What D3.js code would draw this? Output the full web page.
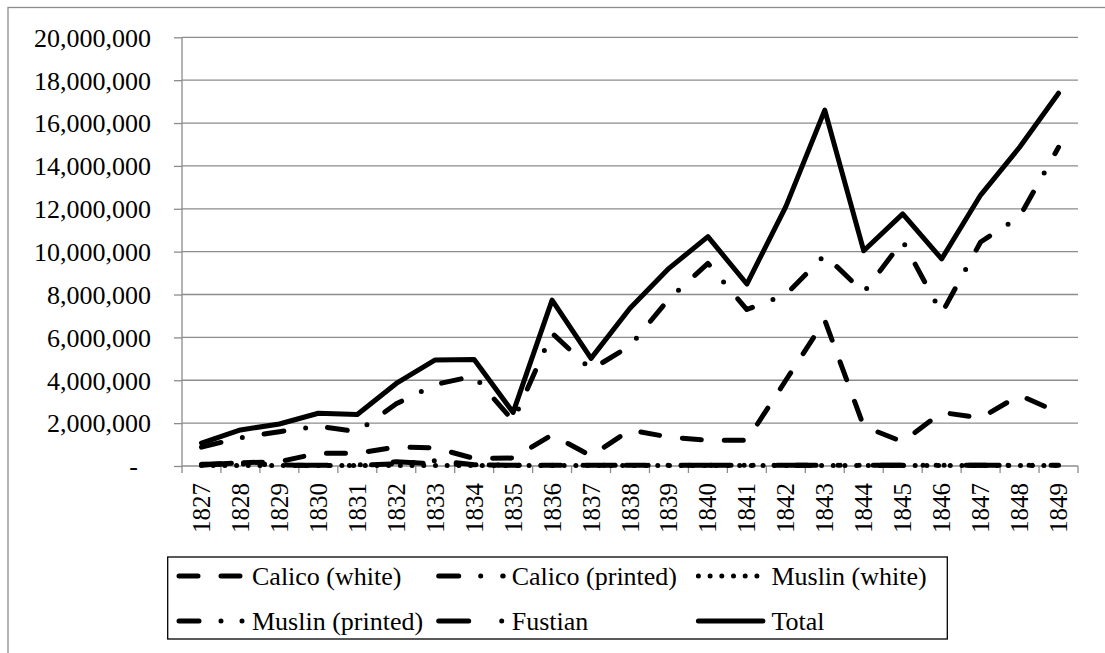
<!DOCTYPE html>
<html>
<head>
<meta charset="utf-8">
<script src="https://cdn.jsdelivr.net/npm/d3@7"></script>
<style>
  html, body { margin: 0; padding: 0; background: #fff; }
</style>
</head>
<body>
<div id="chart"></div>
<script>
// data
const years = ["1827","1828","1829","1830","1831","1832","1833","1834","1835","1836","1837","1838",
               "1839","1840","1841","1842","1843","1844","1845","1846","1847","1848","1849"];

const calicoWhite   = [50000,150000,200000,600000,600000,880000,850000,350000,370000,1450000,470000,1680000,
                       1350000,1200000,1200000,4000000,6800000,1850000,1130000,2500000,2240000,3300000,2500000];
const calicoPrinted = [880000,1320000,1600000,1850000,1600000,2900000,3800000,4200000,2100000,6200000,4500000,5600000,
                       7800000,9450000,7300000,8000000,9840000,8100000,10500000,7120000,10450000,11630000,14870000];
const muslinWhite   = [20000,30000,20000,20000,20000,30000,20000,20000,20000,20000,20000,20000,
                       20000,20000,20000,20000,20000,20000,20000,20000,20000,20000,20000];
const muslinPrinted = [80000,100000,50000,20000,30000,100000,250000,60000,30000,40000,30000,30000,
                       30000,30000,30000,30000,30000,30000,30000,30000,30000,30000,30000];
const fustian       = [50000,150000,50000,30000,50000,200000,100000,60000,30000,40000,30000,30000,
                       30000,30000,30000,30000,30000,30000,30000,30000,30000,30000,30000];
const total         = [1070000,1680000,1960000,2460000,2400000,3850000,4950000,4970000,2500000,7740000,5020000,7360000,
                       9220000,10700000,8490000,12100000,16600000,10040000,11760000,9660000,12640000,14870000,17390000];

const yTicks = [0,2000000,4000000,6000000,8000000,10000000,12000000,14000000,16000000,18000000,20000000];

const seriesNames = ["Calico (white)","Calico (printed)","Muslin (white)","Muslin (printed)","Fustian","Total"];
const seriesDash  = ["19,23", "20,22,0,22", "0,11.7", "20,22,0,21,0,22", "30,33,0,33", null];

const series = seriesNames.map((name, i) => ({
  name: name,
  dash: seriesDash[i],
  values: [calicoWhite, calicoPrinted, muslinWhite, muslinPrinted, fustian, total][i]
}));

const FONT = "'Liberation Serif', 'Times New Roman', 'DejaVu Serif', serif";
const W = 1105, H = 653;
const plot = {left: 182, right: 1078, top: 37.3, bottom: 466};

const svg = d3.select("#chart").append("svg")
  .attr("width", W)
  .attr("height", H)
  .style("font-family", FONT);

// outer chart frame (runs off the right and bottom edge)
svg.append("rect")
  .attr("x", 8).attr("y", 7.5)
  .attr("width", 1120).attr("height", 680)
  .attr("fill", "none")
  .attr("stroke", "#8c8c8c")
  .attr("stroke-width", 1.3);

const x = d3.scaleBand()
  .domain(years)
  .range([plot.left, plot.right]);

const y = d3.scaleLinear()
  .domain([0, 20000000])
  .range([plot.bottom, plot.top]);

// gridlines
svg.append("g")
  .selectAll("line")
  .data(yTicks.slice(1))
  .enter()
  .append("line")
  .attr("x1", plot.left).attr("x2", plot.right)
  .attr("y1", d => y(d)).attr("y2", d => y(d))
  .attr("stroke", "#8c8c8c")
  .attr("stroke-width", 1.3);

// y axis
const fmt = d3.format(",");
const yAxis = d3.axisLeft(y)
  .tickValues(yTicks)
  .tickSize(8)
  .tickPadding(23)
  .tickFormat(d => d === 0 ? "-  " : fmt(d));

const gy = svg.append("g")
  .attr("transform", "translate(" + plot.left + ",0)")
  .call(yAxis)
  .attr("font-family", null)
  .attr("font-size", null);
gy.select(".domain").attr("stroke", "#8c8c8c").attr("stroke-width", 1.3).attr("d", "M0," + plot.top + "V" + plot.bottom);
gy.selectAll(".tick line").attr("stroke", "#8c8c8c").attr("stroke-width", 1.3);
gy.selectAll(".tick text")
  .style("font-family", FONT)
  .style("font-size", "26px")
  .style("white-space", "pre")
  .attr("fill", "#000")
  .attr("dy", "0.34em");

// x axis: tick marks at category boundaries
const gx = svg.append("g");
gx.append("line")
  .attr("x1", plot.left).attr("x2", plot.right)
  .attr("y1", plot.bottom).attr("y2", plot.bottom)
  .attr("stroke", "#8c8c8c").attr("stroke-width", 1.3);
gx.selectAll("line.tk")
  .data(years.concat(["end"]))
  .enter()
  .append("line")
  .attr("class", "tk")
  .attr("x1", (d, i) => plot.left + i * x.bandwidth())
  .attr("x2", (d, i) => plot.left + i * x.bandwidth())
  .attr("y1", plot.bottom).attr("y2", plot.bottom + 7)
  .attr("stroke", "#8c8c8c").attr("stroke-width", 1.3);
gx.selectAll("text")
  .data(years)
  .enter()
  .append("text")
  .attr("transform", d => "translate(" + (x(d) + x.bandwidth() / 2) + "," + (plot.bottom + 17) + ") rotate(-90)")
  .attr("text-anchor", "end")
  .attr("dy", "0.34em")
  .style("font-family", FONT)
  .style("font-size", "25px")
  .text(d => d);

// lines
const line = d3.line()
  .x((d, i) => x(years[i]) + x.bandwidth() / 2)
  .y(d => y(d));

svg.append("g")
  .selectAll("path")
  .data(series)
  .enter()
  .append("path")
  .attr("d", d => line(d.values))
  .attr("fill", "none")
  .attr("stroke", "#000")
  .attr("stroke-width", 5)
  .attr("stroke-linecap", "round")
  .attr("stroke-linejoin", "round")
  .attr("stroke-dasharray", d => d.dash);

// legend
const legend = svg.append("g");
legend.append("rect")
  .attr("x", 167.7).attr("y", 557)
  .attr("width", 779.6).attr("height", 82)
  .attr("fill", "#fff")
  .attr("stroke", "#000")
  .attr("stroke-width", 1.3);

const items = legend.selectAll("g.item")
  .data(series)
  .enter()
  .append("g")
  .attr("class", "item")
  .attr("transform", (d, i) => "translate(" + (179 + (i % 3) * 259.7) + "," + (i < 3 ? 576 : 621) + ")");

items.append("line")
  .attr("x1", 0).attr("x2", 64.5)
  .attr("y1", 0).attr("y2", 0)
  .attr("stroke", "#000")
  .attr("stroke-width", 5)
  .attr("stroke-linecap", "round")
  .attr("stroke-dasharray", d => d.dash);

items.append("text")
  .attr("x", 73)
  .attr("dy", "0.34em")
  .style("font-family", FONT)
  .style("font-size", "26px")
  .text(d => d.name);
</script>
</body>
</html>
